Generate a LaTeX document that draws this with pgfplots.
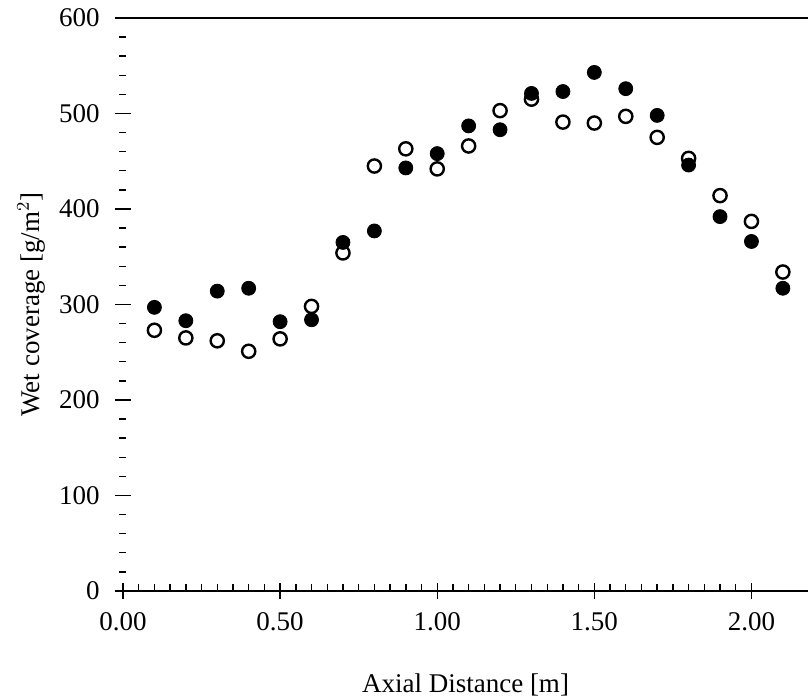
\documentclass[border=0pt]{standalone}
\usepackage{fontspec}
\setmainfont{Liberation Serif}
\usepackage{pgfplots}
\pgfplotsset{compat=1.18}

\begin{document}
\fontsize{13.5}{16}\selectfont
\begin{tikzpicture}
\begin{axis}[
    scale only axis,
    width=342.5pt,
    height=286.5pt,
    xmin=0, xmax=2.18,
    ymin=0, ymax=600,
    axis x line=box,
    axis y line*=left,
    y axis line style={draw=none},
    xtick={0,0.5,1,1.5,2},
    minor x tick num=9,
    ytick={0,100,200,300,400,500,600},
    minor y tick num=4,
    xtick pos=bottom,
    ytick pos=left,
    ytick align=center,
    xtick align=inside,
    major x tick style={yshift=-4pt},
    major tick length=8pt,
    minor tick length=3.5pt,
    tick style={line width=0.7pt, black},
    axis line style={line width=0.9pt},
    /pgf/number format/assume math mode=true,
    xticklabel style={/pgf/number format/fixed, /pgf/number format/fixed zerofill,
        /pgf/number format/precision=2, yshift=-6pt},
    yticklabel style={xshift=-3pt},
    every axis x label/.style={at={(axis description cs:0.5,-0.164)}, anchor=center},
    every axis y label/.style={at={(axis description cs:-0.134,0.5)}, rotate=90, anchor=center},
    xlabel={Axial Distance [m]},
    ylabel={Wet coverage [g/m$^2$]},
    clip=false,
]
\addplot[only marks, mark=*, mark size=3.3pt, mark options={draw=black, fill=white, line width=1.2pt}] coordinates {
    (0.1,273) (0.2,265) (0.3,262) (0.4,251) (0.5,264) (0.6,298) (0.7,354)
    (0.8,445) (0.9,463) (1.0,442) (1.1,466) (1.2,503) (1.3,515) (1.4,491)
    (1.5,490) (1.6,497) (1.7,475) (1.8,453) (1.9,414) (2.0,387) (2.1,334)
};
\addplot[only marks, mark=*, mark size=3.5pt, mark options={draw=black, fill=black}] coordinates {
    (0.1,297) (0.2,283) (0.3,314) (0.4,317) (0.5,282) (0.6,284) (0.7,365)
    (0.8,377) (0.9,443) (1.0,458) (1.1,487) (1.2,483) (1.3,521) (1.4,523)
    (1.5,543) (1.6,526) (1.7,498) (1.8,446) (1.9,392) (2.0,366) (2.1,317)
};
\end{axis}
\pgfresetboundingbox
\path[use as bounding box] (current axis.south west) ++(-61.5pt,-54pt) rectangle ++(404pt,349.5pt);
\end{tikzpicture}
\end{document}
